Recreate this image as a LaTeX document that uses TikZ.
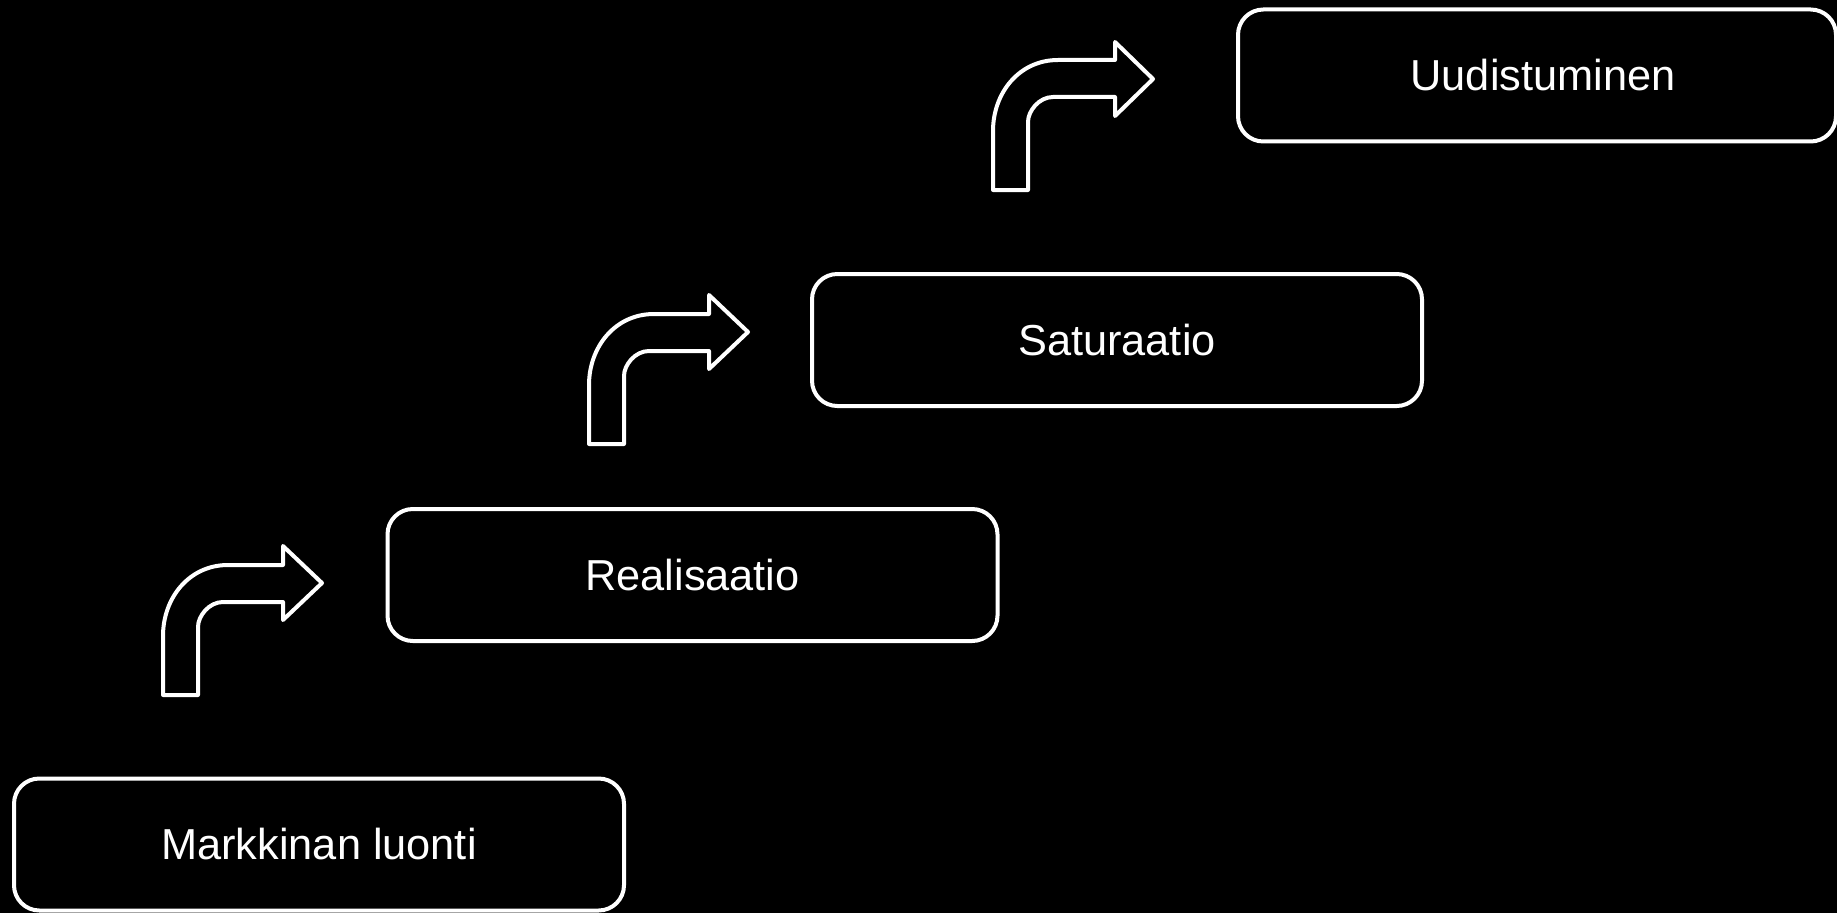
\documentclass[tikz,border=0pt]{standalone}
\usepackage{fontspec}
\setmainfont{Liberation Sans}
\usepackage{tikz}

\begin{document}
\begin{tikzpicture}[x=0.75pt,y=0.75pt,yscale=-1,xscale=1,
  stage/.style={draw=white,line width=3pt,rounded corners=19pt,fill=black,text=white,
    minimum width=457.5pt,minimum height=99pt,font=\fontsize{32.5}{39}\selectfont},
  bent/.style={draw=white,line width=3pt,line join=round,fill=black}]
%set diagram size 1837 x 913, black page
\useasboundingbox (0,0) rectangle (1837,913);
\fill[black] (0,0) rectangle (1837,913);

%Shape: Rectangle rounded [markkina]
\draw (319,844.5) node [stage] (markkina) {Markkinan luonti};
%Shape: Rectangle rounded [realisaatio]
\draw (692.5,575) node [stage] (realisaatio) {Realisaatio};
%Shape: Rectangle rounded [saturaatio]
\draw (1117,340) node [stage] (saturaatio) {Saturaatio};
%Shape: Rectangle rounded [uudistuminen]
\draw (1537,75.5) node [stage,minimum width=448.5pt] (uudistuminen) {\hspace*{9pt}Uudistuminen};

%Shape: Bent Arrow 1
\draw [bent] (163,695) -- (163,636) .. controls (163,598) and (189,565) .. (228,565) -- (283,565) -- (283,546) -- (322,583) -- (283,620) -- (283,602) -- (223,602) .. controls (209,602) and (198,616) .. (198,627) -- (198,695) -- cycle ;
%Shape: Bent Arrow 2
\draw [bent] (589,444) -- (589,385) .. controls (589,347) and (615,314) .. (654,314) -- (709,314) -- (709,295) -- (748,332) -- (709,369) -- (709,351) -- (649,351) .. controls (635,351) and (624,365) .. (624,376) -- (624,444) -- cycle ;
%Shape: Bent Arrow 3
\draw [bent] (993,190) -- (993,131) .. controls (993,93) and (1019,60) .. (1058,60) -- (1115,60) -- (1115,42) -- (1153,79) -- (1115,116) -- (1115,97) -- (1053,97) .. controls (1039,97) and (1028,111) .. (1028,122) -- (1028,190) -- cycle ;

\end{tikzpicture}
\end{document}
